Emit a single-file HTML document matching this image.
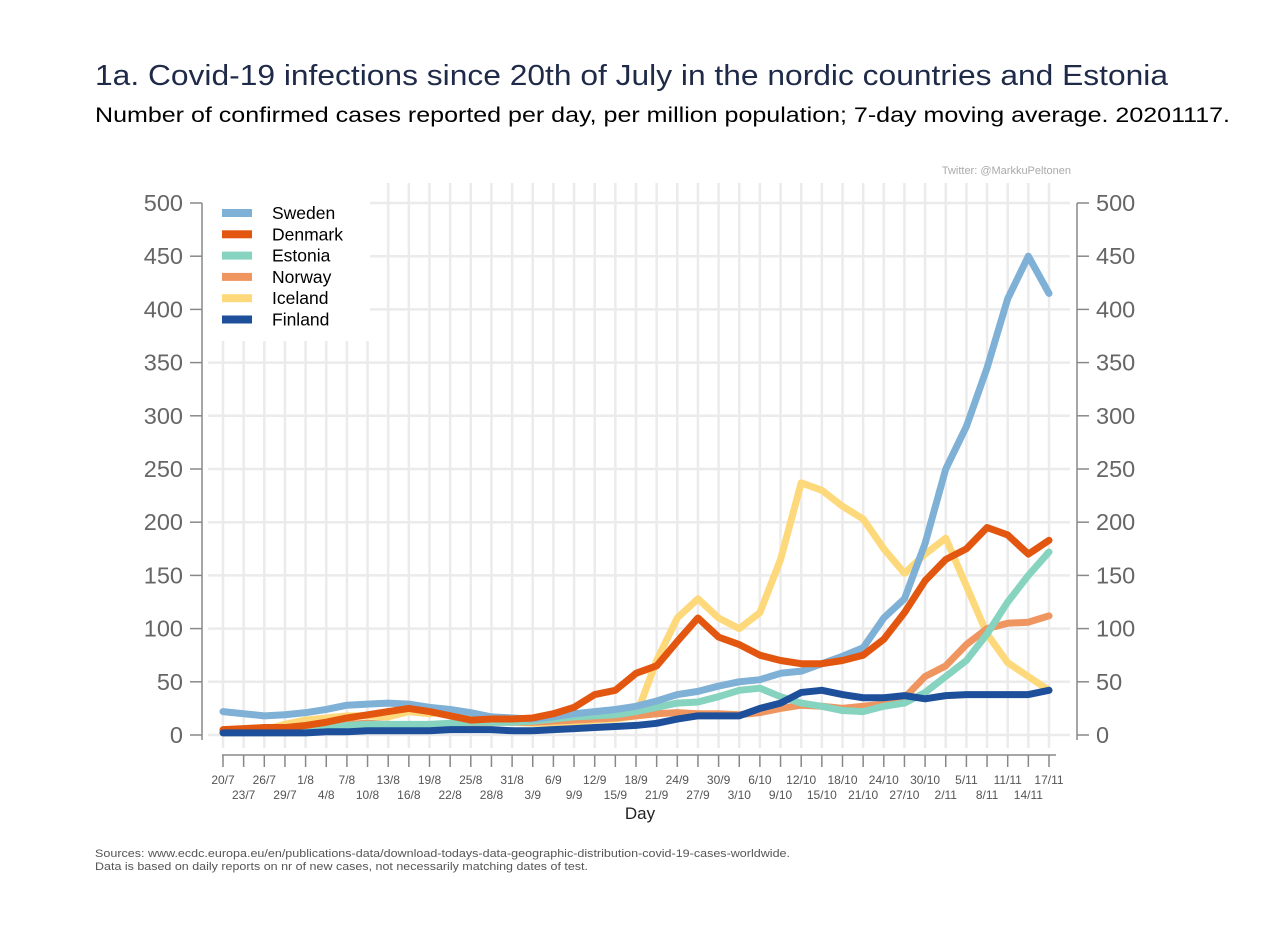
<!DOCTYPE html>
<html><head><meta charset="utf-8"><style>
body{margin:0;background:#fff;}
svg text{font-family:"Liberation Sans",Arial,sans-serif;}
</style></head><body>
<svg width="1280" height="931" viewBox="0 0 1280 931">
<text x="95" y="85" font-size="29" fill="#1f2a48" textLength="1073" lengthAdjust="spacingAndGlyphs">1a. Covid-19 infections since 20th of July in the nordic countries and Estonia</text>
<text x="95" y="122" font-size="21" fill="#000" textLength="1135" lengthAdjust="spacingAndGlyphs">Number of confirmed cases reported per day, per million population; 7-day moving average. 20201117.</text>
<text x="1071" y="174" font-size="11" fill="#aaa" text-anchor="end">Twitter: @MarkkuPeltonen</text>
<g id="grid"></g>
<g id="axes"></g>
<g id="series"></g>
<g id="legend"></g>
<text x="640" y="819" font-size="17" fill="#222" text-anchor="middle">Day</text>
<text x="95" y="857" font-size="11" fill="#555" textLength="695" lengthAdjust="spacingAndGlyphs">Sources: www.ecdc.europa.eu/en/publications-data/download-todays-data-geographic-distribution-covid-19-cases-worldwide.</text>
<text x="95" y="870" font-size="11" fill="#555" textLength="493" lengthAdjust="spacingAndGlyphs">Data is based on daily reports on nr of new cases, not necessarily matching dates of test.</text>
</svg>
<script>
const dateLabels=["20/7","23/7","26/7","29/7","1/8","4/8","7/8","10/8","13/8","16/8","19/8","22/8","25/8","28/8","31/8","3/9","6/9","9/9","12/9","15/9","18/9","21/9","24/9","27/9","30/9","3/10","6/10","9/10","12/10","15/10","18/10","21/10","24/10","27/10","30/10","2/11","5/11","8/11","11/11","14/11","17/11"];
const yTicks=[0,50,100,150,200,250,300,350,400,450,500];
const sweden=[22,20,18,19,21,24,28,29,30,29,26,24,21,17,16,15,17,20,22,24,27,32,38,41,46,50,52,58,60,67,74,82,110,128,180,250,290,345,410,450,415];
const denmark=[5,6,7,7,9,12,16,19,22,25,22,18,14,15,15,16,20,26,38,42,58,65,88,110,92,85,75,70,67,67,70,75,90,115,145,165,175,195,188,170,183];
const estonia=[3,3,4,4,5,7,9,10,10,10,10,11,12,12,12,13,15,17,18,19,22,26,30,31,36,42,44,36,30,27,23,22,27,30,40,55,70,95,125,150,172];
const norway=[3,3,4,5,7,9,10,11,10,9,9,10,11,12,12,12,13,14,15,16,18,20,21,20,20,19,21,25,28,27,25,27,29,35,55,65,85,100,105,106,112];
const iceland=[2,3,5,10,14,16,18,18,17,22,20,22,17,14,12,11,11,12,14,15,18,70,110,128,110,100,115,165,237,230,215,203,175,152,170,185,140,95,68,55,42];
const finland=[2,2,2,2,2,3,3,4,4,4,4,5,5,5,4,4,5,6,7,8,9,11,15,18,18,18,25,30,40,42,38,35,35,37,34,37,38,38,38,38,42];
const seriesNames=["Sweden","Denmark","Estonia","Norway","Iceland","Finland"];
const seriesColors=["#7fb0d6","#e3560f","#86d3bf","#ef9560","#fdd97b","#1d4f9a"];
const NS="http://www.w3.org/2000/svg";
const x0=223,x1=1049,yZero=735,yTop=203;
const xs=i=>x0+(x1-x0)*i/(dateLabels.length-1);
const ys=v=>yZero-(yZero-yTop)*v/500;
function mk(tag,attrs,parent){const e=document.createElementNS(NS,tag);for(const k in attrs)e.setAttribute(k,attrs[k]);parent.appendChild(e);return e;}
const grid=document.getElementById('grid'),axes=document.getElementById('axes'),ser=document.getElementById('series'),leg=document.getElementById('legend');
yTicks.forEach(v=>{
 const l=mk('line',{x1:208,x2:1070,y1:ys(v),y2:ys(v),stroke:'#ebebeb','stroke-width':2.5},grid);
 
 
 const t1=mk('line',{x1:190,x2:202,y1:ys(v),y2:ys(v),stroke:'#888','stroke-width':1.5},axes);
 
 
 const t2=mk('line',{x1:1077,x2:1089,y1:ys(v),y2:ys(v),stroke:'#888','stroke-width':1.5},axes);
 
 
 const a=mk('text',{x:183,y:ys(v)+8,'font-size':23.5,fill:'#666','text-anchor':'end'},axes);a.textContent=v;
 
 
 const b=mk('text',{x:1096,y:ys(v)+8,'font-size':23.5,fill:'#666'},axes);b.textContent=v;
 
 
});
dateLabels.forEach((d,i)=>{
 const g=mk('line',{x1:xs(i),x2:xs(i),y1:183,y2:748,stroke:'#ebebeb','stroke-width':2.5},grid);
 
 
 const t=mk('line',{x1:xs(i),x2:xs(i),y1:755,y2:767,stroke:'#888','stroke-width':1.5},axes);
 
 
 const lb=mk('text',{x:xs(i),y:i%2?799:784,'font-size':12,fill:'#555','text-anchor':'middle'},axes);lb.textContent=d;
 
 
});
let ax=mk('line',{x1:202,x2:202,y1:203,y2:740,stroke:'#888','stroke-width':1.5},axes);


ax=mk('line',{x1:1077,x2:1077,y1:203,y2:740,stroke:'#888','stroke-width':1.5},axes);


ax=mk('line',{x1:222,x2:1056,y1:755,y2:755,stroke:'#888','stroke-width':1.5},axes);


const data=[sweden,denmark,estonia,norway,iceland,finland];
[4,3,2,0,1,5].forEach(k=>{
 const p=mk('polyline',{points:data[k].map((v,i)=>xs(i)+','+ys(v)).join(' '),fill:'none',stroke:seriesColors[k],'stroke-width':7,'stroke-linejoin':'round','stroke-linecap':'round'},ser);
 
 
});
const bg=mk('rect',{x:206,y:183,width:164,height:158,fill:'#fff'},leg);


seriesNames.forEach((n,k)=>{
 const y=213+k*21.3;
 const s=mk('rect',{x:222,y:y-4,width:30,height:8,fill:seriesColors[k]},leg);
 
 
 const t=mk('text',{x:272,y:y+6,'font-size':17.5,fill:'#000'},leg);t.textContent=n;
 
 
});
</script>
</body></html>
